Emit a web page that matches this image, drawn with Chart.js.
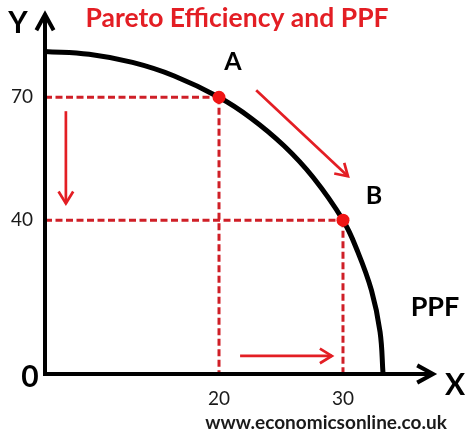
<!DOCTYPE html>
<html>
<head>
<meta charset="utf-8">
<script src="https://cdn.jsdelivr.net/npm/chart.js@4/dist/chart.umd.min.js"></script>
<style>
  html, body { margin: 0; padding: 0; background: #ffffff; }
  #wrap { width: 474px; height: 439px; }
</style>
</head>
<body>
<div id="wrap"><canvas id="c" width="474" height="439"></canvas></div>
<script>
// ---------- data ----------
const titleText = 'Pareto Efficiency and PPF';
const footerText = 'www.economicsonline.co.uk';
const pointLabels = ['A', 'B'];
const pointX = [20, 30];
const pointY = [70, 40];
const ppfX = [0, 5.07, 10.06, 14.86, 20, 22.56, 25.24, 27.6, 30, 31.15, 32.3, 32.99, 33.23];
const ppfY = [81.2, 80.5, 78.5, 75.2, 70, 64.95, 58.15, 50.4, 40, 32.1, 21.7, 10.96, 0];
const xTicks = [20, 30];
const yTicks = [40, 70];
// movement arrows (from -> to), in data units
const arrowFromX = [2.4, 23.0, 21.7];
const arrowFromY = [66.6, 71.7, 4.7];
const arrowToX = [2.4, 30.4, 29.1];
const arrowToY = [44.1, 50.7, 4.7];

// ---------- axis calibration (the drawing's axes are not evenly spaced) ----------
const WARP = {
  x: [[0, 0], [20, 0.4508], [30, 0.7720]],
  y: [[0, 0], [40, 0.4572], [70, 0.8224]]
};
class WarpScale extends Chart.LinearScale {
  _knots() { return WARP[this.id] || [[0, 0], [1, 1]]; }
  _frac(v) {
    const k = this._knots();
    let i = 1;
    while (i < k.length - 1 && v > k[i][0]) i++;
    const a = k[i - 1], b = k[i];
    return a[1] + (v - a[0]) * (b[1] - a[1]) / (b[0] - a[0]);
  }
  _inv(f) {
    const k = this._knots();
    let i = 1;
    while (i < k.length - 1 && f > k[i][1]) i++;
    const a = k[i - 1], b = k[i];
    return a[0] + (f - a[1]) * (b[0] - a[0]) / (b[1] - a[1]);
  }
  getPixelForValue(v) {
    if (v === null || v === undefined || isNaN(v)) return NaN;
    return this.getPixelForDecimal(this._frac(v));
  }
  getValueForPixel(p) { return this._inv(this.getDecimalForPixel(p)); }
}
WarpScale.id = 'warp';
WarpScale.defaults = Chart.LinearScale.defaults;
Chart.register(WarpScale);

// ---------- colours ----------
const RED = '#e31e24';
const DASH_RED = '#cf1f27';
const DOT_RED = '#f01414';

const pts = pointX.map((x, i) => ({ x, y: pointY[i] }));
const curve = ppfX.map((x, i) => ({ x, y: ppfY[i] }));

const dashedSets = [];
pts.forEach(p => {
  dashedSets.push({ data: [{ x: 0, y: p.y }, { x: p.x, y: p.y }] });
  dashedSets.push({ data: [{ x: p.x, y: p.y }, { x: p.x, y: 0 }] });
});

const datasets = [
  {
    label: 'points', data: pts, order: 0, showLine: false, yAxisID: 'y',
    pointRadius: 6.5, pointBackgroundColor: DOT_RED, pointBorderWidth: 0, pointBorderColor: DOT_RED
  },
  {
    label: 'PPF', data: curve, order: 1, showLine: true, tension: 0.4, yAxisID: 'y',
    borderColor: '#000000', borderWidth: 5, pointRadius: 0, fill: false
  },
  ...dashedSets.map(d => ({
    label: 'guide', data: d.data, order: 2, showLine: true, tension: 0, yAxisID: 'y',
    borderColor: DASH_RED, borderWidth: 3, borderDash: [7, 3.5], pointRadius: 0, fill: false
  }))
];

function chevron(ctx, tx, ty, ang, len, spread) {
  ctx.beginPath();
  ctx.moveTo(tx - len * Math.cos(ang - spread), ty - len * Math.sin(ang - spread));
  ctx.lineTo(tx, ty);
  ctx.lineTo(tx - len * Math.cos(ang + spread), ty - len * Math.sin(ang + spread));
  ctx.stroke();
}

const decor = {
  id: 'decor',
  afterDatasetsDraw(chart) {
    const { ctx, scales: { x, y }, chartArea } = chart;
    const ox = x.getPixelForValue(0), oy = y.getPixelForValue(0);
    const yTip = chartArea.top - 23, xTip = chartArea.right + 2;
    ctx.save();
    // axes
    ctx.strokeStyle = '#000'; ctx.lineWidth = 4; ctx.lineCap = 'butt'; ctx.lineJoin = 'miter';
    ctx.beginPath(); ctx.moveTo(ox, oy + 2); ctx.lineTo(ox, yTip + 2); ctx.stroke();
    ctx.beginPath(); ctx.moveTo(ox - 2, oy); ctx.lineTo(xTip - 2, oy); ctx.stroke();
    chevron(ctx, ox, yTip, -Math.PI / 2, 18, 0.5);
    chevron(ctx, xTip, oy, 0, 18, 0.5);
    // movement arrows
    ctx.strokeStyle = RED; ctx.lineWidth = 2.7;
    arrowFromX.forEach((fx, i) => {
      const x0 = x.getPixelForValue(fx), y0 = y.getPixelForValue(arrowFromY[i]);
      const x1 = x.getPixelForValue(arrowToX[i]), y1 = y.getPixelForValue(arrowToY[i]);
      ctx.beginPath(); ctx.moveTo(x0, y0); ctx.lineTo(x1, y1); ctx.stroke();
      chevron(ctx, x1, y1, Math.atan2(y1 - y0, x1 - x0), 14, 0.55);
    });
    // text labels
    ctx.fillStyle = '#000'; ctx.textAlign = 'center'; ctx.textBaseline = 'middle';
    ctx.font = 'bold 30px Lato';
    ctx.fillText('Y', ox - 27, yTip + 9);
    ctx.fillText('X', xTip + 22, oy + 11);
    ctx.fillText('0', ox - 15, oy + 3);
    ctx.font = 'bold 25px Lato';
    const off = [[14, -35], [31, -24]];
    pointLabels.forEach((t, i) => {
      ctx.fillText(t, x.getPixelForValue(pointX[i]) + off[i][0], y.getPixelForValue(pointY[i]) + off[i][1]);
    });
    ctx.font = 'bold 27px Lato';
    ctx.fillText('PPF', chartArea.right + 4, y.getPixelForValue(18) + 3);
    ctx.font = 'bold 19px Lato';
    ctx.fillStyle = '#1a1a1a';
    ctx.fillText(footerText, (x.getPixelForValue(20) + x.getPixelForValue(30)) / 2 + 45, chart.height - 16);
    ctx.restore();
  }
};

new Chart(document.getElementById('c'), {
  type: 'scatter',
  data: { datasets },
  plugins: [decor],
  options: {
    responsive: false,
    animation: false,
    events: [],
    layout: { padding: 0 },
    plugins: {
      legend: { display: false },
      tooltip: { enabled: false },
      title: {
        display: true, text: titleText, color: RED,
        font: { family: 'Lato', size: 26.5, weight: 'bold', lineHeight: 1.2 },
        padding: { top: 3, bottom: 2.7 }
      }
    },
    scales: {
      x: {
        type: 'warp', min: 0, max: 40,
        grid: { display: false, drawTicks: false }, border: { display: false },
        afterBuildTicks: s => { s.ticks = xTicks.map(v => ({ value: v })); },
        afterFit: s => { s.height = 65; },
        ticks: { callback: v => String(v), color: '#1a1a1a', padding: 13,
                 font: { family: 'Lato', size: 19 }, maxRotation: 0, autoSkip: false }
      },
      y: {
        type: 'warp', min: 0, max: 95, position: 'left',
        grid: { display: false, drawTicks: false }, border: { display: false },
        afterBuildTicks: s => { s.ticks = yTicks.map(v => ({ value: v })); },
        afterFit: s => { s.width = 45; },
        ticks: { callback: v => String(v), color: '#1a1a1a', padding: 12,
                 font: { family: 'Lato', size: 19 }, autoSkip: false }
      },
      yRight: {
        type: 'linear', position: 'right', min: 0, max: 1,
        grid: { display: false, drawTicks: false }, border: { display: false },
        ticks: { display: false },
        afterFit: s => { s.width = 43; }
      }
    }
  }
});
</script>
</body>
</html>
